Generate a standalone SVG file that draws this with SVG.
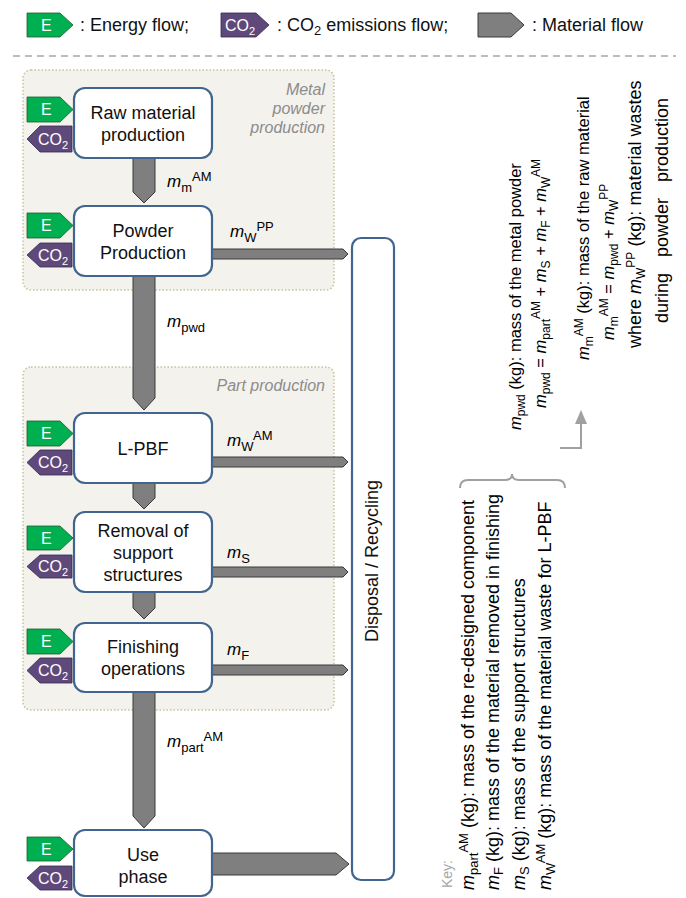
<svg xmlns="http://www.w3.org/2000/svg" width="686" height="898" viewBox="0 0 686 898">
<style>
text{font-family:"Liberation Sans",Arial,sans-serif;fill:#000}
.grp{fill:#f3f2ed;stroke:#c8c29a;stroke-width:1.5;stroke-dasharray:1.5 2}
.gt{font-size:16px;font-style:italic;fill:#8c8c8c;text-anchor:end}
.box{fill:#fff;stroke:#41658f;stroke-width:2.2}
.lbl{font-size:18px;text-anchor:middle;fill:#111}
.e{fill:#00b050;stroke:#1e5a2e;stroke-width:0.8}
.co2{fill:#5f497a;stroke:#35284a;stroke-width:0.8}
.tg{font-size:16px;fill:#fff}
.mat{fill:#7f7f7f;stroke:#3a3a3a;stroke-width:1}
.leg{font-size:18px;fill:#111}
.ml{font-size:17px}
.i{font-style:italic}
.s{font-size:13px}
.r{font-size:16.5px}
.r8{font-size:18px}
.rs{font-size:12px}
.k{font-size:18px}
.ks{font-size:13px}
.note{fill:none;stroke:#a0a0a0;stroke-width:2}
</style>

<g id="legend">
  <polygon class="e" points="27,13 60,13 73,25 60,37 27,37"/>
  <text class="tg" x="41" y="31">E</text>
  <text class="leg" x="80" y="31">: Energy flow;</text>
  <polygon class="co2" points="221,13 256,13 269,25 256,37 221,37"/>
  <text class="tg" x="225" y="31">CO<tspan dy="4" font-size="11">2</tspan></text>
  <text class="leg" x="277" y="31">: CO<tspan dy="4" font-size="13">2</tspan><tspan dy="-4"> emissions flow;</tspan></text>
  <polygon class="mat" points="478,13 511,13 524,25 511,37 478,37"/>
  <text class="leg" x="532" y="31">: Material flow</text>
  <path d="M13,56 H676" stroke="#a6a6a6" stroke-width="1.5" stroke-dasharray="7 5" fill="none"/>
</g>

<g id="group-metal-powder">
  <rect class="grp" x="23" y="70" width="311" height="220" rx="8"/>
  <text class="gt" x="325" y="95">Metal</text>
  <text class="gt" x="325" y="114">powder</text>
  <text class="gt" x="325" y="133">production</text>
</g>
<g id="group-part-production">
  <rect class="grp" x="23" y="367" width="311" height="343" rx="8"/>
  <text class="gt" x="325" y="391">Part production</text>
</g>

<g id="connectors">
  <polygon class="mat" points="133,158 155,158 155,192 144,203 133,192"/>
  <polygon class="mat" points="133,276 155,276 155,398 144,410 133,398"/>
  <polygon class="mat" points="133,483 155,483 155,498 144,509 133,498"/>
  <polygon class="mat" points="133,592 155,592 155,608 144,619 133,608"/>
  <polygon class="mat" points="133,692 155,692 155,816 144,828 133,816"/>
  <polygon class="mat" points="212,249 343,249 348,254 343,259 212,259"/>
  <polygon class="mat" points="212,457 343,457 348,462 343,467 212,467"/>
  <polygon class="mat" points="212,567 343,567 348,572 343,577 212,577"/>
  <polygon class="mat" points="212,665 343,665 348,670 343,675 212,675"/>
  <polygon class="mat" points="212,853 336,853 349,864 336,875 212,875"/>
  <text class="ml" x="167" y="187"><tspan class="i">m</tspan><tspan class="s" dy="5">m</tspan><tspan class="s" dy="-11">AM</tspan></text>
  <text class="ml" x="230" y="237"><tspan class="i">m</tspan><tspan class="s" dy="5">W</tspan><tspan class="s" dy="-11">PP</tspan></text>
  <text class="ml" x="167" y="327"><tspan class="i">m</tspan><tspan class="s" dy="5">pwd</tspan></text>
  <text class="ml" x="227" y="446"><tspan class="i">m</tspan><tspan class="s" dy="5">W</tspan><tspan class="s" dy="-11">AM</tspan></text>
  <text class="ml" x="227" y="558"><tspan class="i">m</tspan><tspan class="s" dy="5">S</tspan></text>
  <text class="ml" x="227" y="655"><tspan class="i">m</tspan><tspan class="s" dy="5">F</tspan></text>
  <text class="ml" x="167" y="747"><tspan class="i">m</tspan><tspan class="s" dy="5">part</tspan><tspan class="s" dy="-11">AM</tspan></text>
</g>

<g id="raw-material">
  <rect class="box" x="74" y="88" width="138" height="70" rx="11"/>
  <text class="lbl" x="143" y="119">Raw material</text>
  <text class="lbl" x="143" y="141">production</text>
  <polygon class="e" points="27,97 60,97 73,109.5 60,122 27,122"/>
  <text class="tg" x="41" y="115">E</text>
  <polygon class="co2" points="27,139 40,126 72,126 72,152 40,152"/>
  <text class="tg" x="38" y="145">CO<tspan dy="4" font-size="11">2</tspan></text>
</g>

<g id="powder-production">
  <rect class="box" x="74" y="206" width="138" height="70" rx="11"/>
  <text class="lbl" x="143" y="237">Powder</text>
  <text class="lbl" x="143" y="259">Production</text>
  <polygon class="e" points="27,213 60,213 73,225.5 60,238 27,238"/>
  <text class="tg" x="41" y="231">E</text>
  <polygon class="co2" points="27,255 40,243 72,243 72,267 40,267"/>
  <text class="tg" x="38" y="261">CO<tspan dy="4" font-size="11">2</tspan></text>
</g>

<g id="lpbf">
  <rect class="box" x="74" y="413" width="138" height="70" rx="11"/>
  <text class="lbl" x="143" y="455">L-PBF</text>
  <polygon class="e" points="27,421 60,421 73,433.5 60,446 27,446"/>
  <text class="tg" x="41" y="439">E</text>
  <polygon class="co2" points="27,462.5 40,450 72,450 72,475 40,475"/>
  <text class="tg" x="38" y="468">CO<tspan dy="4" font-size="11">2</tspan></text>
</g>

<g id="removal-support">
  <rect class="box" x="74" y="512" width="138" height="80" rx="11"/>
  <text class="lbl" x="143" y="537">Removal of</text>
  <text class="lbl" x="143" y="559">support</text>
  <text class="lbl" x="143" y="581">structures</text>
  <polygon class="e" points="27,526 60,526 73,538 60,550 27,550"/>
  <text class="tg" x="41" y="544">E</text>
  <polygon class="co2" points="27,566.5 40,555 72,555 72,578 40,578"/>
  <text class="tg" x="38" y="572">CO<tspan dy="4" font-size="11">2</tspan></text>
</g>

<g id="finishing">
  <rect class="box" x="74" y="623" width="138" height="69" rx="11"/>
  <text class="lbl" x="143" y="653">Finishing</text>
  <text class="lbl" x="143" y="675">operations</text>
  <polygon class="e" points="27,629 60,629 73,641.5 60,654 27,654"/>
  <text class="tg" x="41" y="647">E</text>
  <polygon class="co2" points="27,670.5 40,658 72,658 72,683 40,683"/>
  <text class="tg" x="38" y="676">CO<tspan dy="4" font-size="11">2</tspan></text>
</g>

<g id="use-phase">
  <rect class="box" x="74" y="830" width="138" height="66" rx="11"/>
  <text class="lbl" x="143" y="861">Use</text>
  <text class="lbl" x="143" y="883">phase</text>
  <polygon class="e" points="27,837 60,837 73,849 60,861 27,861"/>
  <text class="tg" x="41" y="855">E</text>
  <polygon class="co2" points="27,878 40,866 72,866 72,890 40,890"/>
  <text class="tg" x="38" y="884">CO<tspan dy="4" font-size="11">2</tspan></text>
</g>

<g id="disposal-recycling">
  <rect class="box" x="352" y="238" width="42" height="642" rx="9"/>
  <text class="lbl" transform="translate(378,561) rotate(-90)">Disposal / Recycling</text>
</g>

<g id="equations">
  <text class="r" transform="translate(521,430) rotate(-90)"><tspan class="i">m</tspan><tspan class="rs" dy="4">pwd</tspan><tspan dy="-4"> (kg): mass of the metal powder</tspan></text>
  <text class="r" transform="translate(546,408) rotate(-90)"><tspan class="i">m</tspan><tspan class="rs" dy="4">pwd</tspan><tspan dy="-4"> = </tspan><tspan class="i">m</tspan><tspan class="rs" dy="4">part</tspan><tspan class="rs" dy="-10">AM</tspan><tspan dy="6"> + </tspan><tspan class="i">m</tspan><tspan class="rs" dy="4">S</tspan><tspan dy="-4"> + </tspan><tspan class="i">m</tspan><tspan class="rs" dy="4">F</tspan><tspan dy="-4"> + </tspan><tspan class="i">m</tspan><tspan class="rs" dy="4">W</tspan><tspan class="rs" dy="-10">AM</tspan></text>
  <text class="r" transform="translate(589,360) rotate(-90)"><tspan class="i">m</tspan><tspan class="rs" dy="4">m</tspan><tspan class="rs" dy="-10">AM</tspan><tspan dy="6"> (kg): mass of the raw material</tspan></text>
  <text class="r" transform="translate(614,340) rotate(-90)"><tspan class="i">m</tspan><tspan class="rs" dy="4">m</tspan><tspan class="rs" dy="-10">AM</tspan><tspan dy="6"> = </tspan><tspan class="i">m</tspan><tspan class="rs" dy="4">pwd</tspan><tspan dy="-4"> + </tspan><tspan class="i">m</tspan><tspan class="rs" dy="4">W</tspan><tspan class="rs" dy="-10">PP</tspan></text>
  <text class="r8" transform="translate(641,348) rotate(-90)">where <tspan class="i">m</tspan><tspan class="rs" dy="4">W</tspan><tspan class="rs" dy="-10">PP</tspan><tspan dy="6"> (kg): material wastes</tspan></text>
  <text class="r8" transform="translate(668,323) rotate(-90)" word-spacing="11">during powder production</text>
  <path class="note" d="M560,448 H581 V423"/>
  <polygon points="575,424 587,424 581,410" fill="#a0a0a0"/>
</g>

<g id="key">
  <path class="note" stroke-width="1.5" d="M460,488 Q460,480 468,480 L505,480 Q512,480 512,474 Q512,480 519,480 L557,480 Q565,480 565,488"/>
  <text style="fill:#a6a6a6;font-size:14px" transform="translate(452,888) rotate(-90)">Key:</text>
  <text class="k" transform="translate(474,890) rotate(-90)"><tspan class="i">m</tspan><tspan class="ks" dy="4">part</tspan><tspan class="ks" dy="-10">AM</tspan><tspan dy="6"> (kg): mass of the re-designed component</tspan></text>
  <text class="k" transform="translate(499,890) rotate(-90)"><tspan class="i">m</tspan><tspan class="ks" dy="4">F</tspan><tspan dy="-4"> (kg): mass of the material removed in finishing</tspan></text>
  <text class="k" transform="translate(525,890) rotate(-90)"><tspan class="i">m</tspan><tspan class="ks" dy="4">S</tspan><tspan dy="-4"> (kg): mass of the support structures</tspan></text>
  <text class="k" transform="translate(551,890) rotate(-90)"><tspan class="i">m</tspan><tspan class="ks" dy="4">W</tspan><tspan class="ks" dy="-10">AM</tspan><tspan dy="6"> (kg): mass of the material waste for L-PBF</tspan></text>
</g>
</svg>
